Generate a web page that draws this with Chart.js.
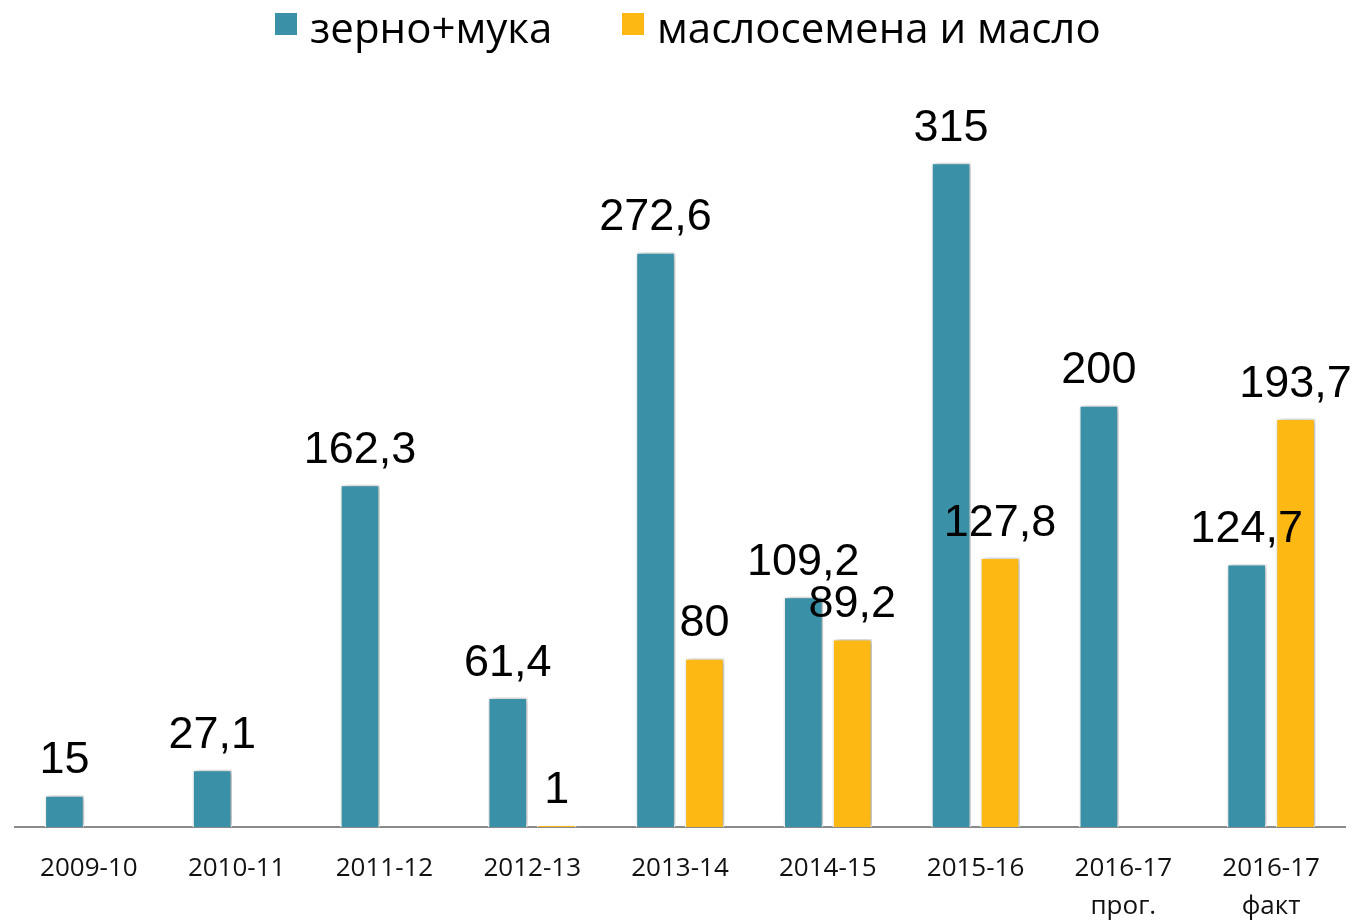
<!DOCTYPE html>
<html>
<head>
<meta charset="utf-8">
<script src="https://cdn.jsdelivr.net/npm/chart.js@4/dist/chart.umd.min.js"></script>
<style>
html,body{margin:0;padding:0;background:#fff;}
#wrap{width:1362px;height:922px;position:relative;}
#legend{position:absolute;left:0;top:0;height:60px;width:1362px;font-family:"Open Sans",sans-serif;font-size:42px;color:#000;}
.item{position:absolute;top:0;height:60px;}
.box{position:absolute;top:13px;left:0;width:22px;height:22px;}
.txt{position:absolute;left:35px;top:-3px;white-space:nowrap;line-height:60px;}
</style>
</head>
<body>
<div id="wrap">
<canvas id="c" width="1362" height="922"></canvas>
<div id="legend"></div>
</div>
<script>
const categories = ["2009-10","2010-11","2011-12","2012-13","2013-14","2014-15","2015-16",["2016-17","прог."],["2016-17","факт"]];
const grainFlour = [15, 27.1, 162.3, 61.4, 272.6, 109.2, 315, 200, 124.7];
const oilseedsOil = [null, null, null, 1, 80, 89.2, 127.8, null, 193.7];
const seriesNames = ["зерно+мука", "маслосемена и масло"];
const seriesColors = ["#3A90A6", "#FDB813"];
const legendLeft = [275, 622];

// HTML legend
const legendEl = document.getElementById('legend');
seriesNames.forEach((name, i) => {
  const it = document.createElement('div');
  it.className = 'item';
  it.style.left = legendLeft[i] + 'px';
  const b = document.createElement('div');
  b.className = 'box';
  b.style.background = seriesColors[i];
  const t = document.createElement('div');
  t.className = 'txt';
  t.textContent = name;
  it.appendChild(b); it.appendChild(t);
  legendEl.appendChild(it);
});

const shadowPlugin = {
  id: 'barShadow',
  beforeDatasetDraw(chart) {
    const ctx = chart.ctx;
    ctx.save();
    ctx.shadowColor = 'rgba(0,0,0,0.35)';
    ctx.shadowBlur = 6;
    ctx.shadowOffsetX = 2;
    ctx.shadowOffsetY = 0;
  },
  afterDatasetDraw(chart) {
    chart.ctx.restore();
  }
};

const labelPlugin = {
  id: 'valueLabels',
  afterDatasetsDraw(chart) {
    const ctx = chart.ctx;
    ctx.save();
    ctx.font = '45px "Liberation Sans", Arial, sans-serif';
    ctx.fillStyle = '#000';
    ctx.textAlign = 'center';
    ctx.textBaseline = 'alphabetic';
    chart.data.datasets.forEach((ds, i) => {
      const meta = chart.getDatasetMeta(i);
      meta.data.forEach((el, j) => {
        const v = ds.data[j];
        if (v === null || v === undefined) return;
        ctx.fillText(String(v).replace('.', ','), el.x, el.y - 22);
      });
    });
    ctx.restore();
  }
};

new Chart(document.getElementById('c'), {
  type: 'bar',
  data: {
    labels: categories,
    datasets: [
      { label: seriesNames[0], data: grainFlour, backgroundColor: seriesColors[0], borderColor: '#ffffff', borderWidth: 1.5 },
      { label: seriesNames[1], data: oilseedsOil, backgroundColor: seriesColors[1], borderColor: '#ffffff', borderWidth: 1.5 }
    ]
  },
  options: {
    responsive: false,
    animation: false,
    categoryPercentage: 0.662,
    barPercentage: 0.81,
    layout: { padding: { left: 15, right: 17, top: 89, bottom: -27 } },
    plugins: {
      legend: { display: false },
      tooltip: { enabled: false }
    },
    scales: {
      x: {
        grid: { display: false, drawTicks: false },
        border: { display: true, color: '#8a8a8a', width: 2 },
        ticks: {
          color: '#111',
          padding: 23,
          maxRotation: 0,
          autoSkip: false,
          font: { family: '"Open Sans", sans-serif', size: 26, lineHeight: 1.4615 }
        }
      },
      y: {
        display: false,
        min: 0,
        max: 350
      }
    }
  },
  plugins: [shadowPlugin, labelPlugin]
});
</script>
</body>
</html>
